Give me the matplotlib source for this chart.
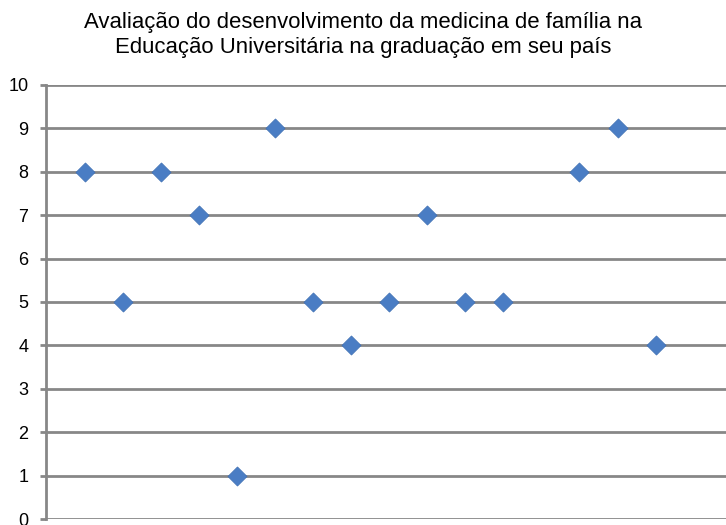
import matplotlib.pyplot as plt

# respondent index and score (index 13 had no answer)
respondents = [1, 2, 3, 4, 5, 6, 7, 8, 9, 10, 11, 12, 14, 15, 16]
scores = [8, 5, 8, 7, 1, 9, 5, 4, 5, 7, 5, 5, 8, 9, 4]
yticks = list(range(0, 11))

plt.rcParams['font.family'] = ['Liberation Sans', 'DejaVu Sans']

fig = plt.figure(figsize=(7.26, 5.25), dpi=100)
ax = fig.add_axes([46.5 / 726, 6 / 525, 1 - 46.5 / 726, 434 / 525])

ax.scatter(respondents, scores, marker='D', s=95, color='#4a7dc4',
           edgecolors='#3f6fb3', linewidths=0.5, zorder=3, clip_on=False)

ax.set_xlim(0, 17.85)
ax.set_ylim(0, 10)
ax.set_yticks(yticks)
ax.set_xticks([])
ax.grid(axis='y', color='#878787', linewidth=2)
ax.set_axisbelow(True)

for side in ['top', 'right', 'bottom']:
    ax.spines[side].set_visible(False)
ax.spines['left'].set_color('#878787')
ax.spines['left'].set_linewidth(2)
ax.tick_params(axis='y', length=4.5, width=2, color='#878787', labelsize=13, pad=8.5)

fig.text(0.5, 1 - 35 / 525, 'Avaliação do desenvolvimento da medicina de família na\n'
         'Educação Universitária na graduação em seu país',
         ha='center', va='center', fontsize=15.9, linespacing=1.28)

fig.savefig('out.png', dpi=100)
